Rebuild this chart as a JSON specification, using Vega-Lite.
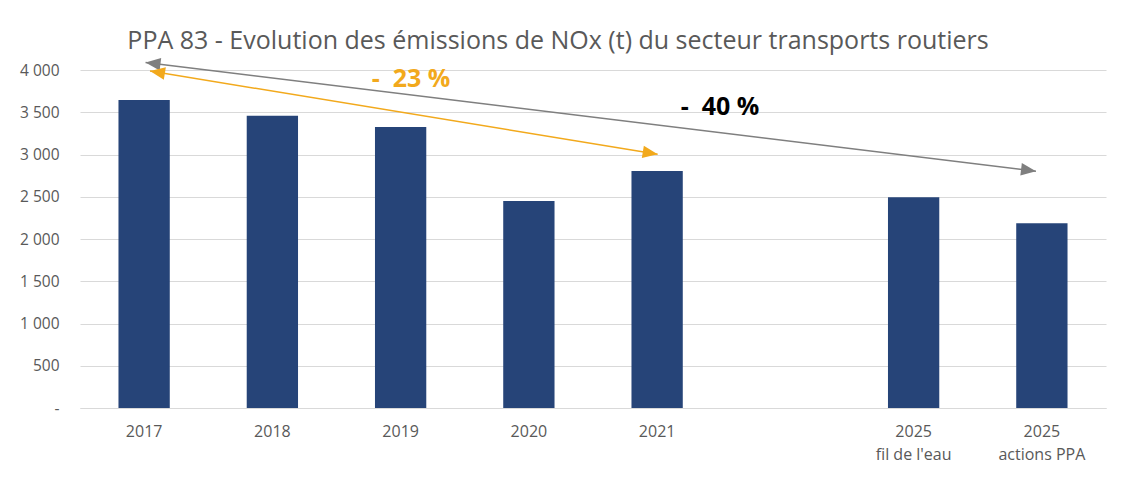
{
  "$schema": "https://vega.github.io/schema/vega-lite/v6.json",
  "width": 1026,
  "height": 338,
  "autosize": "none",
  "padding": {"left": 80, "top": 70, "right": 18, "bottom": 84},
  "background": "white",
  "config": {
    "view": {"stroke": null},
    "font": "Open Sans",
    "axisY": {
      "title": null,
      "tickCount": 8,
      "labelExpr": "datum.value == 0 ? '-' : replace(format(datum.value, ','), ',', ' ')",
      "labelFontSize": 15.5,
      "labelColor": "#595959",
      "labelPadding": 21,
      "ticks": false,
      "domain": false,
      "gridColor": "#d9d9d9",
      "gridWidth": 1
    }
  },
  "title": {
    "text": "PPA 83 - Evolution des émissions de NOx (t) du secteur transports routiers",
    "anchor": "middle",
    "frame": "group",
    "dx": -35,
    "offset": 4,
    "fontSize": 25,
    "fontWeight": "normal",
    "color": "#595959",
    "font": "Open Sans"
  },
  "datasets": {
    "bars": [
      {"cat": "2017", "val": 3645},
      {"cat": "2018", "val": 3460},
      {"cat": "2019", "val": 3325},
      {"cat": "2020", "val": 2450},
      {"cat": "2021", "val": 2805},
      {"cat": "2025|fil de l'eau", "val": 2495},
      {"cat": "2025|actions PPA", "val": 2185}
    ],
    "arrows": [
      {"arrow": "gris", "xa": 0.511, "ya": 4088, "xb": 7.454, "yb": 2803},
      {"arrow": "orange", "xa": 0.546, "ya": 3988, "xb": 4.504, "yb": 3002}
    ],
    "heads": [
      {"arrow": "gris", "x": 0.511, "y": 4088, "angle": 186.9},
      {"arrow": "gris", "x": 7.454, "y": 2803, "angle": 6.9},
      {"arrow": "orange", "x": 0.546, "y": 3988, "angle": 189.3},
      {"arrow": "orange", "x": 4.504, "y": 3002, "angle": 9.3}
    ],
    "labels": [
      {"text": "-\u00a0\u00a023\u00a0%", "x": 2.581, "y": 3896, "color": "orange"},
      {"text": "-\u00a0\u00a040\u00a0%", "x": 4.99, "y": 3567, "color": "noir"}
    ]
  },
  "layer": [
    {
      "data": {"name": "bars"},
      "mark": {"type": "bar", "color": "#264478"},
      "encoding": {
        "x": {
          "field": "cat",
          "type": "nominal",
          "sort": null,
          "scale": {
            "domain": ["2017", "2018", "2019", "2020", "2021", "gap", "2025|fil de l'eau", "2025|actions PPA"],
            "paddingInner": 0.6,
            "paddingOuter": 0.3
          },
          "axis": {
            "title": null,
            "labelAngle": 0,
            "labelExpr": "datum.value == 'gap' ? '' : split(datum.value, '|')",
            "labelFontSize": 16,
            "labelColor": "#595959",
            "labelPadding": 15,
            "labelLineHeight": 23,
            "ticks": false,
            "domainColor": "#d9d9d9",
            "domainWidth": 1
          }
        },
        "y": {
          "field": "val",
          "type": "quantitative",
          "title": null,
          "scale": {"domain": [0, 4000], "nice": false}
        }
      }
    },
    {
      "data": {"name": "arrows"},
      "mark": {"type": "rule", "strokeWidth": 1.5},
      "encoding": {
        "x": {"field": "xa", "type": "quantitative", "scale": {"domain": [0, 8], "nice": false, "zero": false}, "axis": null},
        "x2": {"field": "xb"},
        "y": {"field": "ya", "type": "quantitative", "title": null, "scale": {"domain": [0, 4000], "nice": false}},
        "y2": {"field": "yb"},
        "color": {"field": "arrow", "type": "nominal", "scale": {"domain": ["gris", "orange", "noir"], "range": ["#7f7f7f", "#f2a91c", "#000000"]}, "legend": null}
      }
    },
    {
      "data": {"name": "heads"},
      "mark": {"type": "point", "shape": "M0,0L-1,-0.42L-1,0.42Z", "size": 900, "filled": true, "opacity": 1, "strokeWidth": 0},
      "encoding": {
        "x": {"field": "x", "type": "quantitative", "scale": {"domain": [0, 8], "nice": false, "zero": false}, "axis": null},
        "y": {"field": "y", "type": "quantitative", "title": null, "scale": {"domain": [0, 4000], "nice": false}},
        "angle": {"field": "angle", "type": "quantitative", "scale": null},
        "color": {"field": "arrow", "type": "nominal", "scale": {"domain": ["gris", "orange", "noir"], "range": ["#7f7f7f", "#f2a91c", "#000000"]}, "legend": null}
      }
    },
    {
      "data": {"name": "labels"},
      "mark": {"type": "text", "fontSize": 25, "fontWeight": "bold", "align": "center", "baseline": "middle", "font": "Open Sans"},
      "encoding": {
        "x": {"field": "x", "type": "quantitative", "scale": {"domain": [0, 8], "nice": false, "zero": false}, "axis": null},
        "y": {"field": "y", "type": "quantitative", "title": null, "scale": {"domain": [0, 4000], "nice": false}},
        "text": {"field": "text"},
        "color": {"field": "color", "type": "nominal", "scale": {"domain": ["gris", "orange", "noir"], "range": ["#7f7f7f", "#f2a91c", "#000000"]}, "legend": null}
      }
    }
  ],
  "resolve": {"scale": {"x": "independent"}}
}
